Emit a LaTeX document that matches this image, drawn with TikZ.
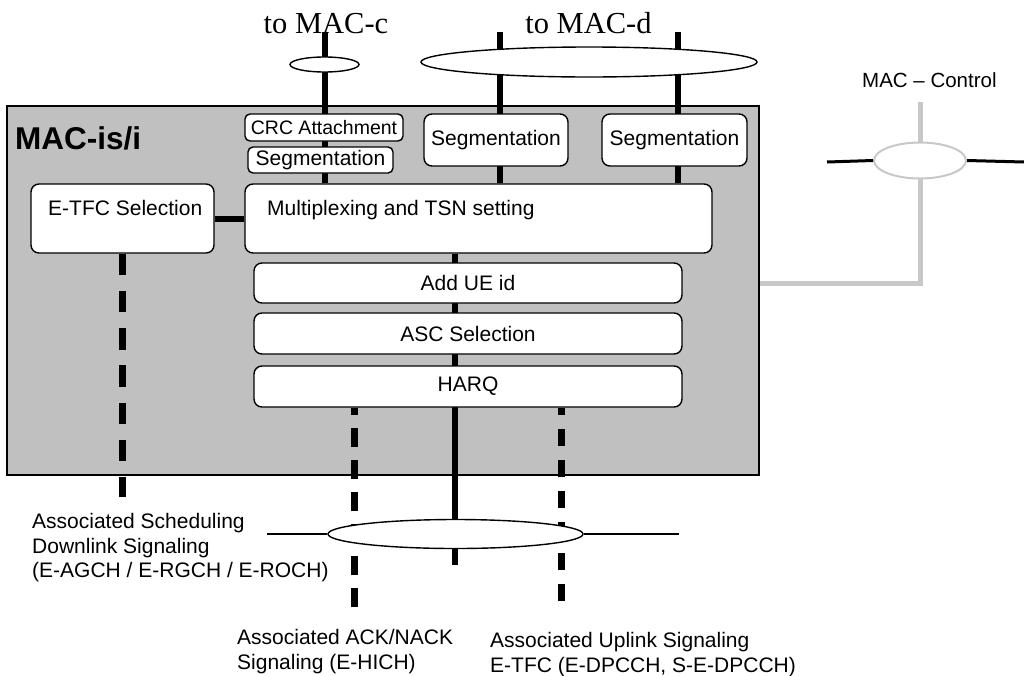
\documentclass[tikz,border=0pt]{standalone}
\usepackage{fontspec}
\setmainfont{Liberation Sans}
\newfontfamily\serifa{Liberation Serif}
\usepackage{tikz}
\usetikzlibrary{shapes.geometric, backgrounds, calc}

\definecolor{grismac}{RGB}{192,192,192}
\definecolor{griscontrol}{RGB}{200,200,200}

\begin{document}
\begin{tikzpicture}[
    x=1pt, y=-1pt,
    every path/.style={line join=miter}
]
    \tikzset{
        caja/.style={draw, fill=white, line width=1.4pt, rounded corners=8pt, inner sep=0pt, font=\fontsize{21}{25}\selectfont},
        cajita/.style={caja, rounded corners=5pt},
        enlace/.style={ellipse, draw, fill=white, line width=1.4pt, inner sep=0pt},
        canal/.style={line width=5.5pt},
        senal/.style={line width=7pt, dash pattern=on 19pt off 13pt},
        texto/.style={inner sep=0pt, font=\fontsize{21}{24.5}\selectfont, align=left},
        titulo/.style={inner sep=0pt, font=\serifa\fontsize{30.5}{31}\selectfont, anchor=base},
        gris/.style={draw=griscontrol, line width=5pt}
    }
    \useasboundingbox (0,0) rectangle (1024,675);

    % Cajas
    \node[cajita, minimum width=158, minimum height=27, font=\fontsize{19.5}{24}\selectfont] (crc) at (324,127.5) {CRC Attachment};
    \node[cajita, minimum width=145, minimum height=26] (segc)  at (320.5,160) {Segmentation};
    \node[caja, minimum width=144, minimum height=52]   (segd1) at (496,140)   {Segmentation};
    \node[caja, minimum width=145, minimum height=52]   (segd2) at (674.5,140) {Segmentation};
    \node[caja, minimum width=183, minimum height=69]   (etfc)  at (122.5,218.5) {};
    \node[caja, minimum width=467, minimum height=69]   (mux)   at (478.5,218.5) {};
    \node[caja, minimum width=428, minimum height=40]   (ueid)  at (468,283)   {Add UE id};
    \node[caja, minimum width=428, minimum height=41]   (asc)   at (468,333.5) {ASC Selection};
    \node[caja, minimum width=428, minimum height=41]   (harq)  at (468,386.5) {HARQ};

    \node[texto, anchor=base west] (etfctxt) at (48,215)  {E-TFC Selection};
    \node[texto, anchor=base west] (muxtxt)  at (267,215) {Multiplexing and TSN setting};

    % Elipses
    \node[enlace, minimum width=69,  minimum height=15] (ellc) at (324.5,64.5) {};
    \node[enlace, minimum width=336, minimum height=30] (elld) at (589,62)     {};
    \node[enlace, minimum width=255, minimum height=29] (ellb) at (455.5,534)  {};
    \node[enlace, draw=griscontrol, line width=2pt, minimum width=92, minimum height=36] (ctl) at (920,160.5) {};

    % Puntos
    \coordinate (arribac)  at (325,32);
    \coordinate (arribad1) at (500,32);
    \coordinate (arribad2) at (678,32);
    \coordinate (abajo)    at (455,565);
    \coordinate (etfcfin)  at (122.5,497);
    \coordinate (ackfin)   at (354,607);
    \coordinate (ulfin)    at (561,601);
    \coordinate (bizq)     at (267,534);
    \coordinate (bder)     at (679,534);
    \coordinate (ctlarriba) at (920,102);
    \coordinate (ctlcodo)  at (920,283);
    \coordinate (ctlizq)   at (827,162);
    \coordinate (ctlder)   at (1024,162);

    % Textos
    \node[inner sep=0pt, anchor=base west, font=\bfseries\fontsize{31.5}{33}\selectfont] (macis) at (15,149) {MAC-is/i};
    \node[titulo] (tomacc) at (326,33)   {to MAC-c};
    \node[titulo] (tomacd) at (588.5,33) {to MAC-d};
    \node[texto, anchor=base west, font=\fontsize{20.5}{24}\selectfont] (ctltxt) at (862,87) {MAC -- Control};
    \node[texto, anchor=north west] (sched) at (32,513.5)  {Associated Scheduling\\Downlink Signaling\\(E-AGCH / E-RGCH / E-ROCH)};
    \node[texto, anchor=north west] (ack)   at (237,629.4) {Associated ACK/NACK\\Signaling (E-HICH)};
    \node[texto, anchor=north west] (ul)    at (490,632.4) {Associated Uplink Signaling\\E-TFC (E-DPCCH, S-E-DPCCH)};

    % Lineas
    \draw[line width=3pt] (ctlizq) -- (ctl.west);
    \draw[line width=3pt] (ctl.east) -- (ctlder);
    \draw[line width=2pt] (bizq) -- (ellb.west);
    \draw[line width=2pt] (ellb.east) -- (bder);

    \begin{pgfonlayer}{background}
        \node[draw, fill=grismac, line width=2pt, minimum width=752, minimum height=369, inner sep=0pt] (mac) at (383,290.5) {};
        \draw[gris] (ctlarriba) -- (ctlcodo) -- (ctlcodo -| mac.east);
        \draw[canal] (arribac)  -- (arribac |- mux.north);
        \draw[canal] (arribad1) -- (arribad1 |- mux.north);
        \draw[canal] (arribad2) -- (arribad2 |- mux.north);
        \draw[canal] (abajo |- mux.south) -- (abajo);
        \draw[line width=6pt] (etfc) -- (mux);
        \draw[senal, dash pattern=on 21.5pt off 15.7pt] (etfc.south) -- (etfcfin);
        \draw[senal] (ackfin) -- (ackfin |- harq.south);
        \draw[senal, dash pattern=on 17pt off 14pt] (ulfin) -- (ulfin |- harq.south);
    \end{pgfonlayer}
\end{tikzpicture}
\end{document}
